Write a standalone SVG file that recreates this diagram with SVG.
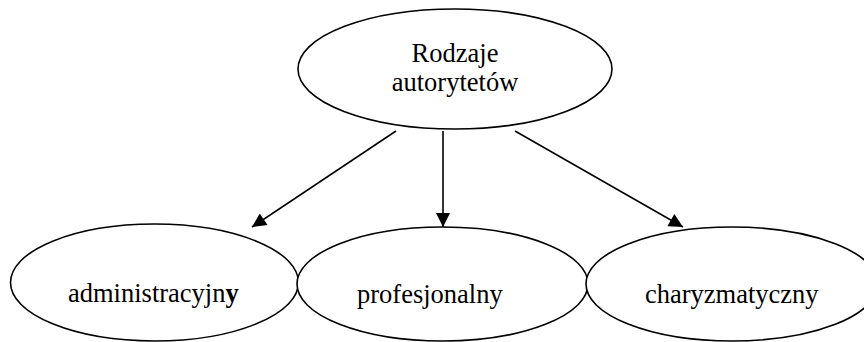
<svg xmlns="http://www.w3.org/2000/svg" width="864" height="342" viewBox="0 0 864 342">
  <style>
    .node ellipse { fill: #ffffff; stroke: #000000; stroke-width: 1.6; }
    .node text { font-family: "Liberation Serif", "Times New Roman", serif; font-size: 26.5px; fill: #000000; }
    .edge { stroke: #000000; stroke-width: 1.6; fill: none; marker-end: url(#arrow); }
  </style>
  <defs>
    <marker id="arrow" viewBox="0 0 10 10" refX="10" refY="5" markerUnits="userSpaceOnUse" markerWidth="16" markerHeight="14" orient="auto">
      <path d="M0,0 L10,5 L0,10 Z" fill="#000000"/>
    </marker>
  </defs>
  <rect width="864" height="342" fill="#ffffff"/>

  <!-- connectors from the root to the three kinds -->
  <g id="connectors">
    <line class="edge" x1="396" y1="131" x2="252" y2="227"/>
    <line class="edge" x1="443" y1="131" x2="443" y2="227"/>
    <line class="edge" x1="515" y1="131" x2="683" y2="227"/>
  </g>

  <g id="node-root" class="node">
    <ellipse cx="455" cy="69" rx="157" ry="60"/>
    <text x="455" y="62" text-anchor="middle">Rodzaje</text>
    <text x="455" y="91" text-anchor="middle">autorytetów</text>
  </g>

  <g id="node-administracyjny" class="node">
    <ellipse cx="154.5" cy="282.5" rx="144" ry="58.5"/>
    <text x="68" y="302">administracyjn<tspan font-weight="bold">y</tspan></text>
  </g>

  <g id="node-profesjonalny" class="node">
    <ellipse cx="442.5" cy="284" rx="145.5" ry="57"/>
    <text x="357" y="303">profesjonalny</text>
  </g>

  <g id="node-charyzmatyczny" class="node">
    <ellipse cx="732" cy="284" rx="146" ry="57"/>
    <text x="645" y="303">charyzmatyczny</text>
  </g>
</svg>
